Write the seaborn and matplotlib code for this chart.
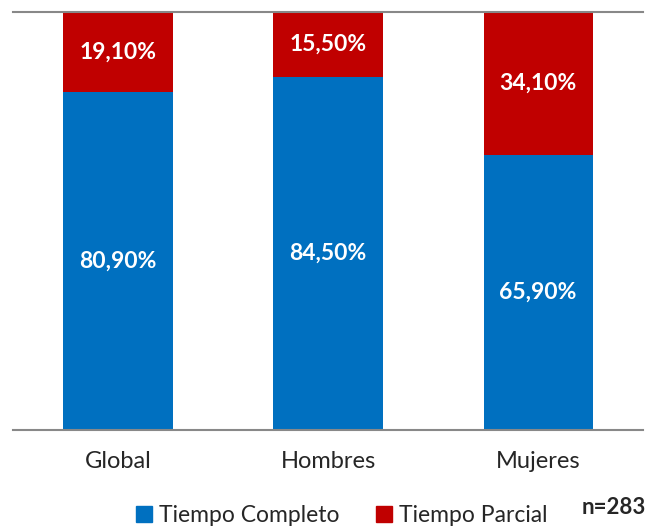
import numpy as np
import pandas as pd
import matplotlib
matplotlib.use('Agg')
import matplotlib.pyplot as plt
import seaborn as sns
from matplotlib.patches import Patch

# Data
categories = ['Global', 'Hombres', 'Mujeres']
tiempo_completo = [80.9, 84.5, 65.9]
tiempo_parcial = [19.1, 15.5, 34.1]

blue = '#0070C0'
red = '#C00000'

sns.set_style('white')
plt.rcParams['font.family'] = ['Lato', 'DejaVu Sans']

df = pd.DataFrame({'cat': categories,
                   'completo': tiempo_completo,
                   'parcial': tiempo_parcial})
df['total'] = df['completo'] + df['parcial']

fig = plt.figure(figsize=(6.49, 5.30), dpi=100)
ax = fig.add_axes([0.02, 0.189, 0.971, 0.788])

# stacked bars: full height in red, blue drawn over it
sns.barplot(data=df, x='cat', y='total', color=red, width=0.52, ax=ax,
            saturation=1, linewidth=0)
sns.barplot(data=df, x='cat', y='completo', color=blue, width=0.52, ax=ax,
            saturation=1, linewidth=0)

def fmt(v):
    return '{:.2f}%'.format(v).replace('.', ',')

for i in range(len(categories)):
    c = tiempo_completo[i]
    p = tiempo_parcial[i]
    ax.text(i, c / 2, fmt(c), ha='center', va='center', color='white',
            fontsize=16.5, fontweight='bold')
    ax.text(i, c + p / 2, fmt(p), ha='center', va='center', color='white',
            fontsize=16.5, fontweight='bold')

ax.set_ylim(0, 100)
ax.set_xlim(-0.5, 2.5)
ax.set_xlabel('')
ax.set_ylabel('')
ax.set_yticks([])
ax.set_xticks([-0.5, 0.5, 1.5, 2.5], minor=False)
ax.set_xticklabels([])
ax.set_xticks([0, 1, 2], minor=True)
ax.set_xticklabels(categories, minor=True, fontsize=17)
ax.tick_params(axis='x', which='major', length=7, width=1.2, color='#888888', direction='out')
ax.tick_params(axis='x', which='minor', length=0, pad=15)

for s in ['left', 'right']:
    ax.spines[s].set_visible(False)
for s in ['top', 'bottom']:
    ax.spines[s].set_color('#888888')
    ax.spines[s].set_linewidth(1.5)

handles = [Patch(color=blue, label='Tiempo Completo'),
           Patch(color=red, label='Tiempo Parcial')]
fig.legend(handles=handles, loc='center', bbox_to_anchor=(0.527, 0.027), ncol=2,
           frameon=False, fontsize=16.5, handlelength=0.7, handleheight=0.7,
           handletextpad=0.3, columnspacing=1.6, borderpad=0)
fig.text(0.995, 0.043, 'n=283', ha='right', va='center', fontsize=16, fontweight='bold')

fig.savefig('out.png', dpi=100)
